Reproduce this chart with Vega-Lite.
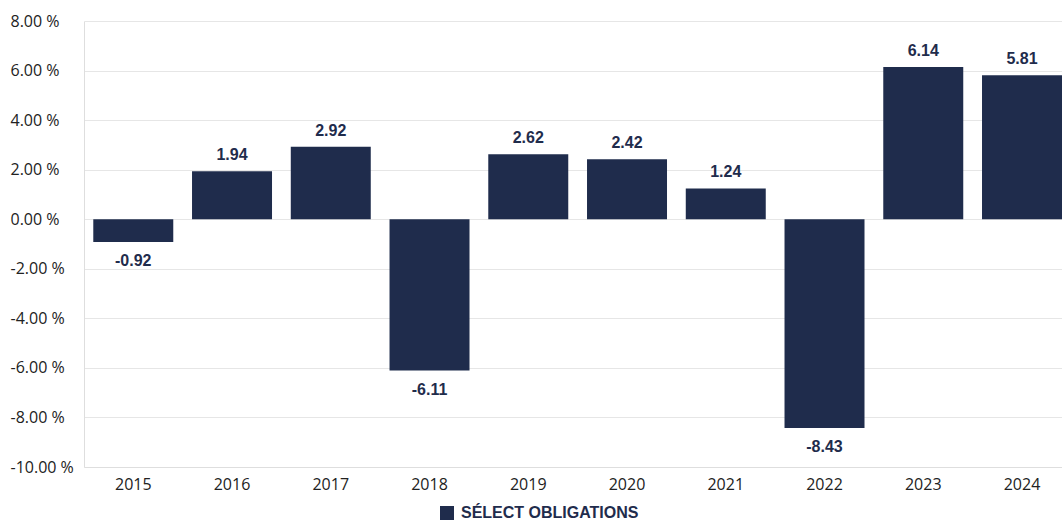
{
  "$schema": "https://vega.github.io/schema/vega-lite/v6.json",
  "width": 978,
  "height": 446,
  "autosize": {"type": "none"},
  "padding": {"left": 84, "top": 21, "right": 0, "bottom": 53},
  "background": "white",
  "config": {
    "locale": {"number": {"decimal": ".", "thousands": ",", "grouping": [3], "currency": ["$", ""], "minus": "-"}},
    "view": {"stroke": null},
    "axis": {"labelFont": "Open Sans", "labelFontSize": 16, "labelColor": "#222222", "ticks": false, "domainColor": "#dedede", "gridColor": "#e6e6e6", "title": null}
  },
  "data": {"values": [
    {"year": "2015", "value": -0.92, "series": "SÉLECT OBLIGATIONS"},
    {"year": "2016", "value": 1.94, "series": "SÉLECT OBLIGATIONS"},
    {"year": "2017", "value": 2.92, "series": "SÉLECT OBLIGATIONS"},
    {"year": "2018", "value": -6.11, "series": "SÉLECT OBLIGATIONS"},
    {"year": "2019", "value": 2.62, "series": "SÉLECT OBLIGATIONS"},
    {"year": "2020", "value": 2.42, "series": "SÉLECT OBLIGATIONS"},
    {"year": "2021", "value": 1.24, "series": "SÉLECT OBLIGATIONS"},
    {"year": "2022", "value": -8.43, "series": "SÉLECT OBLIGATIONS"},
    {"year": "2023", "value": 6.14, "series": "SÉLECT OBLIGATIONS"},
    {"year": "2024", "value": 5.81, "series": "SÉLECT OBLIGATIONS"}
  ]},
  "encoding": {
    "x": {"field": "year", "type": "nominal", "scale": {"paddingInner": 0.19, "paddingOuter": 0.047, "align": 1},
      "axis": {"labelAngle": 0, "labelPadding": 9, "grid": false, "domain": true}},
    "y": {"field": "value", "type": "quantitative", "scale": {"domain": [-10, 8], "nice": false, "zero": false},
      "axis": {"values": [-10, -8, -6, -4, -2, 0, 2, 4, 6, 8], "labelExpr": "format(datum.value, '.2f') + ' %'", "labelAlign": "left", "labelPadding": 74, "grid": true, "domain": true}}
  },
  "layer": [
    {
      "mark": {"type": "bar", "color": "#1f2c4c"},
      "encoding": {
        "color": {"field": "series", "type": "nominal", "scale": {"range": ["#1f2c4c"]},
          "legend": {"title": null, "orient": "none", "legendX": 355, "legendY": 484, "symbolType": "square", "symbolSize": 196, "symbolStrokeWidth": 0, "symbolOpacity": 1, "labelFont": "Liberation Sans", "labelFontWeight": "bold", "labelFontSize": 16, "labelColor": "#1f2c4c", "labelOffset": 6, "labelLimit": 400}}
      }
    },
    {
      "transform": [{"filter": "datum.value >= 0"}],
      "mark": {"type": "text", "baseline": "alphabetic", "dy": -11, "font": "Liberation Sans", "fontWeight": "bold", "fontSize": 16, "color": "#1f2c4c"},
      "encoding": {"text": {"field": "value", "type": "quantitative", "format": ".2f"}}
    },
    {
      "transform": [{"filter": "datum.value < 0"}],
      "mark": {"type": "text", "baseline": "alphabetic", "dy": 24, "font": "Liberation Sans", "fontWeight": "bold", "fontSize": 16, "color": "#1f2c4c"},
      "encoding": {"text": {"field": "value", "type": "quantitative", "format": ".2f"}}
    }
  ]
}
